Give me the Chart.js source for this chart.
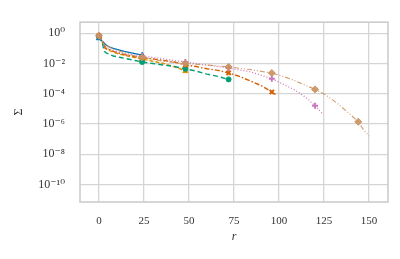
<!DOCTYPE html>
<html>
<head>
<meta charset="utf-8">
<script src="https://cdn.jsdelivr.net/npm/chart.js@4"></script>
<style>
  html, body { margin: 0; padding: 0; background: #fff; }
  #wrap { width: 400px; height: 259px; }
</style>
</head>
<body>
<div id="wrap"><canvas id="chart" width="400" height="259"></canvas></div>
<script>
// values (log y axis)
const xTicks = [0, 25, 50, 75, 100, 125, 150];
const yTicks = [1e-10, 1e-8, 1e-6, 1e-4, 1e-2, 1];

const blueR = [0, 1, 2, 4, 6, 8, 10, 12, 14, 16, 18, 20, 22, 24];
const blueV = [0.468, 0.355, 0.282, 0.166, 0.120, 0.100, 0.0851, 0.0741, 0.0631, 0.0562, 0.0501, 0.0447, 0.0398, 0.0355];

const orangeR = [0, 2, 3, 4, 6, 8, 12, 16, 20, 24, 28, 32, 36, 40, 44, 48];
const orangeV = [0.631, 0.251, 0.112, 0.0891, 0.0708, 0.0562, 0.0398, 0.0316, 0.0251, 0.0200, 0.0158, 0.0126, 0.0100, 0.00708, 0.00501, 0.00316];

const greenR = [0, 2, 3, 4, 6, 8, 12, 16, 20, 24, 30, 36, 42, 48, 54, 60, 66, 72];
const greenV = [0.631, 0.200, 0.0631, 0.0501, 0.0398, 0.0316, 0.0251, 0.0200, 0.0158, 0.0126, 0.0100, 0.00794, 0.00631, 0.00447, 0.00316, 0.00200, 0.00141, 0.00089];

const redR = [0, 2, 3, 4, 6, 8, 12, 16, 20, 24, 30, 36, 42, 48, 54, 60, 66, 72, 78, 84, 90, 96, 98];
const redV = [0.708, 0.316, 0.158, 0.100, 0.0794, 0.0631, 0.0447, 0.0355, 0.0282, 0.0251, 0.0200, 0.0158, 0.0126, 0.00794, 0.00631, 0.00447, 0.00355, 0.0024, 0.00141, 0.000708, 0.000355, 0.000132, 0.000089];

const pinkR = [0, 2, 3, 4, 6, 8, 12, 16, 20, 24, 36, 48, 60, 72, 84, 96, 102, 108, 112, 116, 120, 124];
const pinkV = [0.631, 0.282, 0.158, 0.112, 0.0891, 0.0708, 0.0501, 0.0398, 0.0355, 0.0316, 0.0200, 0.0126, 0.00794, 0.00501, 0.00282, 0.00100, 0.000447, 0.0002, 0.0001, 0.000045, 0.000016, 0.000005];

const tanR = [0, 4, 8, 12, 16, 20, 24, 36, 48, 60, 72, 84, 96, 102, 108, 114, 120, 126, 132, 138, 144, 147, 150];
const tanV = [0.708, 0.158, 0.0891, 0.0631, 0.0447, 0.0316, 0.0251, 0.0141, 0.0100, 0.00794, 0.00603, 0.00398, 0.00234, 0.00145, 0.000794, 0.000398, 0.000195, 0.000083, 0.000025, 0.0000063, 0.0000014, 0.0000004, 0.00000016];

const supers = { '-': '\u207B', '0': '\u2070', '1': '\u00B9', '2': '\u00B2', '3': '\u00B3', '4': '\u2074', '5': '\u2075', '6': '\u2076', '7': '\u2077', '8': '\u2078', '9': '\u2079' };
function sup(n) { return String(n).split('').map(c => supers[c]).join(''); }

function pts(rs, vs) { return rs.map((r, i) => ({ x: r, y: vs[i] })); }
function every24(rad) { return ctx => (ctx.raw && ctx.raw.x % 24 === 0 ? rad : 0); }

function series(label, rs, vs, color, dash, style, rad, order, width) {
    return {
        label, data: pts(rs, vs), borderColor: color, backgroundColor: color,
        borderWidth: width || 1.3, borderDash: dash, pointStyle: style,
        pointRadius: every24(rad), pointHoverRadius: 0, pointBorderWidth: style === 'crossRot' || style === 'cross' ? 2 : 1,
        pointBorderColor: color, pointBackgroundColor: color, tension: 0, order
    };
}

const frame = {
    id: 'frame',
    afterDraw(chart) {
        const a = chart.chartArea, c = chart.ctx;
        c.save(); c.strokeStyle = '#cccccc'; c.lineWidth = 1.6;
        c.strokeRect(a.left, a.top, a.right - a.left, a.bottom - a.top);
        c.restore();
    }
};

const serif = "'Liberation Serif', 'DejaVu Serif', serif";

new Chart(document.getElementById('chart').getContext('2d'), {
    type: 'line',
    data: { datasets: [
        series('a', tanR, tanV, 'rgba(202,145,97,0.9)', [5, 2, 1, 2, 1, 2], 'rectRot', 3.5, 0, 1.1),
        series('b', pinkR, pinkV, '#cc78bc', [1, 2], 'cross', 3, 1, 1.3),
        series('c', redR, redV, '#d55e00', [5, 2, 1.5, 2], 'crossRot', 3, 2, 1.4),
        series('d', greenR, greenV, '#029e73', [5, 3], 'circle', 2.5, 3, 1.4),
        series('e', orangeR, orangeV, '#de8f05', [4, 2], 'triangle', 3, 4, 1.4),
        series('f', blueR, blueV, '#0173b2', [], 'triangle', 3, 5, 1.3)
    ] },
    options: {
        responsive: false, animation: false, devicePixelRatio: 1,
        layout: { padding: { left: 12, right: 12, top: 12, bottom: 15 } },
        plugins: { legend: { display: false }, tooltip: { enabled: false } },
        scales: {
            x: {
                type: 'linear', min: -10.5, max: 160.5,
                afterBuildTicks: s => { s.ticks = xTicks.map(v => ({ value: v })); },
                afterFit: s => { s.height = 42; },
                grid: { color: '#d5d5d5', lineWidth: 1.3, drawTicks: false },
                border: { display: false },
                ticks: { padding: 13, color: '#333', font: { family: serif, size: 11 } },
                title: { display: true, text: 'r', color: '#333', padding: { top: 0, bottom: 0 }, font: { family: serif, size: 12, style: 'italic' } }
            },
            y: {
                type: 'logarithmic', min: 7.08e-12, max: 5.37,
                afterBuildTicks: s => { s.ticks = yTicks.map(v => ({ value: v })); },
                afterFit: s => { s.width = 68; },
                grid: { color: '#d5d5d5', lineWidth: 1.3, drawTicks: false },
                border: { display: false },
                ticks: { padding: 15, color: '#333', font: { family: serif, size: 12 },
                    callback: v => '10' + sup(Math.round(Math.log10(v))) },
                title: { display: true, text: '\u03A3', color: '#333', padding: { top: 0, bottom: 0 }, font: { family: serif, size: 12 } }
            }
        }
    },
    plugins: [frame]
});
</script>
</body>
</html>
